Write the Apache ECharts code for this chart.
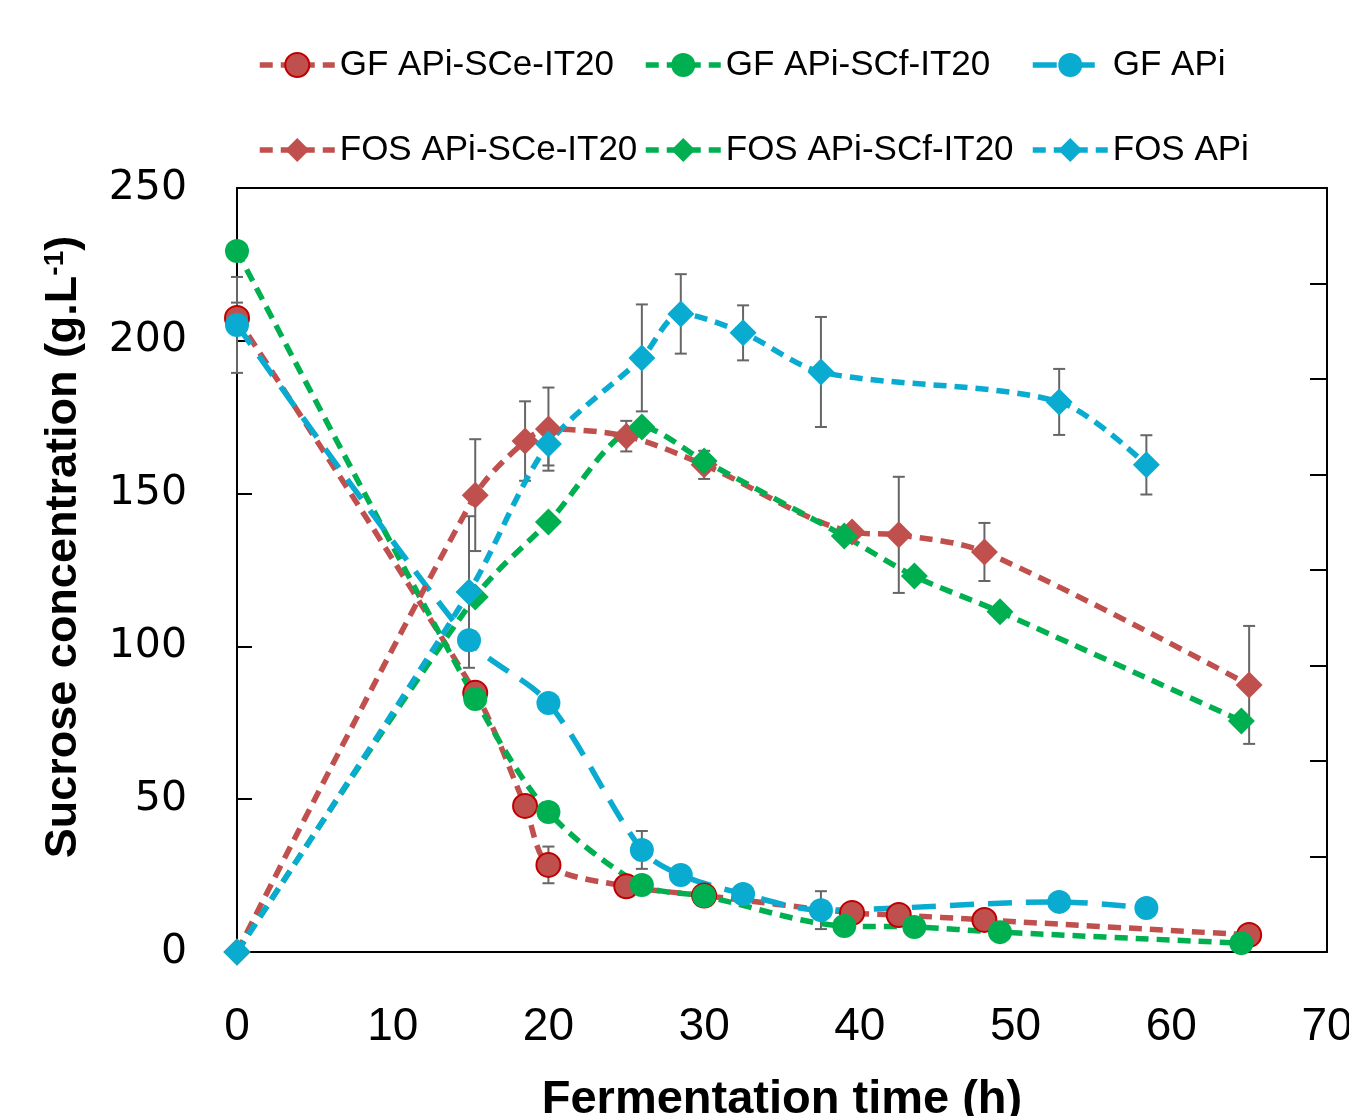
<!DOCTYPE html>
<html>
<head>
<meta charset="utf-8">
<script src="https://cdn.jsdelivr.net/npm/echarts@6/dist/echarts.min.js"></script>
<style>html,body{margin:0;padding:0;background:#fff;}#c{width:1349px;height:1116px;}</style>
</head>
<body>
<div id="c"></div>
<script>
// ---- data ----
const timeSCe = [0, 15.3, 18.5, 20, 25, 30, 39.5, 42.5, 48, 65];
const gfSCe   = [207.5, 84.8, 47.8, 28.5, 21.5, 18.5, 12.8, 12.1, 10.5, 5.6];
const gfSCeErr = [5, 0, 0, 6, 0, 0, 0, 0, 0, 0];
const fosSCe  = [0, 149.5, 167.2, 171.1, 168.8, 159.4, 137.4, 136.5, 130.9, 87.4];
const fosSCeErr = [0, 18.3, 13, 13.6, 5, 4.6, 0, 19, 9.5, 19.3];

const timeSCf = [0, 15.3, 20, 26, 30, 39, 43.5, 49, 64.5];
const gfSCf   = [229.4, 82.8, 45.8, 21.9, 18.3, 8.5, 8.2, 6.5, 2.9];
const fosSCf  = [0, 116.2, 140.7, 171.8, 160.7, 136.1, 123, 111.3, 75.6];

const timeAPi = [0, 14.9, 20, 26, 28.5, 32.5, 37.5, 52.8, 58.4];
const gfAPi   = [205.2, 102, 81.5, 33.4, 25.2, 19, 13.7, 16.4, 14.4];
const gfAPiErr = [15.7, 0, 0, 6.2, 3, 0, 6.2, 0, 0];
const fosAPi  = [0, 117.8, 166.2, 194.4, 208.8, 202.6, 189.8, 180, 159.4];
const fosAPiErr = [0, 24.8, 7, 17.5, 13, 9, 18, 10.8, 9.7];

const xTicks = [0, 10, 20, 30, 40, 50, 60, 70];
const yTicks = [0, 50, 100, 150, 200, 250];

const names = ['GF APi-SCe-IT20', 'GF APi-SCf-IT20', 'GF APi', 'FOS APi-SCe-IT20', 'FOS APi-SCf-IT20', 'FOS APi'];

// ---- styles ----
const RED = '#C0504D', GREEN = '#00B050', BLUE = '#0AABD1';
const FONT = '"Liberation Sans", Arial, sans-serif';

function pairs(t, v) { return t.map((x, i) => [x, v[i]]); }
function errData(t, v, e) { return t.map((x, i) => [x, v[i], e[i]]).filter(d => d[2] > 0); }

function lineSeries(name, t, v, color, symbol, dash, border) {
  return {
    name, type: 'line', data: pairs(t, v), smooth: 0.3,
    symbol, symbolSize: symbol === 'circle' ? 24 : 27,
    showAllSymbol: true,
    lineStyle: { color, width: 5.5, type: dash },
    itemStyle: { color, borderColor: border || color, borderWidth: border ? 2 : 0 },
    emphasis: { disabled: true }, animation: false, z: 3
  };
}

function errSeries(data) {
  return {
    type: 'custom', data, z: 2, animation: false, silent: true,
    renderItem(params, api) {
      const x = api.value(0), y = api.value(1), e = api.value(2);
      const top = api.coord([x, y + e]), bot = api.coord([x, y - e]);
      const w = 6;
      const st = { stroke: '#666666', lineWidth: 2 };
      return { type: 'group', children: [
        { type: 'line', shape: { x1: top[0], y1: top[1], x2: bot[0], y2: bot[1] }, style: st },
        { type: 'line', shape: { x1: top[0] - w, y1: top[1], x2: top[0] + w, y2: top[1] }, style: st },
        { type: 'line', shape: { x1: bot[0] - w, y1: bot[1], x2: bot[0] + w, y2: bot[1] }, style: st }
      ]};
    }
  };
}

const legendPos = [[257, 45], [643, 45], [1030, 45], [257, 130], [643, 130], [1030, 130]];
const legends = names.map((n, i) => ({
  data: [n], left: legendPos[i][0], top: legendPos[i][1],
  itemWidth: 75, itemHeight: 30, padding: 0,
  lineStyle: { width: 5.5 },
  textStyle: { fontFamily: FONT, fontSize: 35, color: '#000', lineHeight: 40 },
  selectedMode: false
}));

const chart = echarts.init(document.getElementById('c'), null, { renderer: 'canvas' });
chart.setOption({
  backgroundColor: '#fff',
  animation: false,
  grid: { left: 237, right: 22, top: 188, bottom: 164, containLabel: false, outerBoundsMode: 'none' },
  legend: legends,
  xAxis: [{
    type: 'value', min: xTicks[0], max: xTicks[xTicks.length - 1], interval: 10,
    axisLine: { onZero: false, lineStyle: { color: '#000', width: 2 } },
    axisTick: { show: false }, splitLine: { show: false },
    axisLabel: { fontFamily: FONT, fontSize: 46, color: '#000', margin: 52 },
    name: 'Fermentation time (h)', nameLocation: 'middle', nameGap: 125,
    nameTextStyle: { fontFamily: FONT, fontSize: 47, fontWeight: 'bold', color: '#000' }
  }, {
    type: 'value', position: 'top', min: 0, max: 70,
    axisLine: { show: true, onZero: false, lineStyle: { color: '#000', width: 2 } },
    axisTick: { show: false }, axisLabel: { show: false }, splitLine: { show: false }
  }],
  yAxis: [{
    type: 'value', min: yTicks[0], max: yTicks[yTicks.length - 1], interval: 50,
    axisLine: { show: true, onZero: false, lineStyle: { color: '#000', width: 2 } },
    axisTick: { show: true, inside: true, length: 15, lineStyle: { color: '#000', width: 2 } },
    splitLine: { show: false },
    axisLabel: { fontFamily: '"DejaVu Sans", sans-serif', fontSize: 41, color: '#000', margin: 50 },
    name: '{b|Sucrose concentration (g.L}{s|-1}{b|)}', nameLocation: 'middle', nameGap: 150, nameRotate: 90,
    nameTextStyle: { padding: [0, 0, 0, 46], rich: {
      b: { fontFamily: FONT, fontSize: 45, fontWeight: 'bold', color: '#000' },
      s: { fontFamily: FONT, fontSize: 28, fontWeight: 'bold', color: '#000', verticalAlign: 'top', padding: [0, 0, 18, 0] }
    } }
  }, {
    type: 'value', position: 'right', min: 0, max: 8, interval: 1,
    axisLine: { show: true, onZero: false, lineStyle: { color: '#000', width: 2 } },
    axisTick: { show: true, inside: true, length: 17, lineStyle: { color: '#000', width: 2 } },
    axisLabel: { show: false }, splitLine: { show: false }
  }],
  series: [
    errSeries(errData(timeSCe, gfSCe, gfSCeErr)),
    errSeries(errData(timeSCe, fosSCe, fosSCeErr)),
    errSeries(errData(timeAPi, gfAPi, gfAPiErr)),
    errSeries(errData(timeAPi, fosAPi, fosAPiErr)),
    lineSeries(names[0], timeSCe, gfSCe, RED, 'circle', [13, 8], '#C00000'),
    lineSeries(names[1], timeSCf, gfSCf, GREEN, 'circle', [13, 8]),
    lineSeries(names[2], timeAPi, gfAPi, BLUE, 'circle', [24, 14]),
    lineSeries(names[3], timeSCe, fosSCe, RED, 'diamond', [13, 8]),
    lineSeries(names[4], timeSCf, fosSCf, GREEN, 'diamond', [13, 8]),
    lineSeries(names[5], timeAPi, fosAPi, BLUE, 'diamond', [13, 8])
  ]
});
</script>
</body>
</html>
